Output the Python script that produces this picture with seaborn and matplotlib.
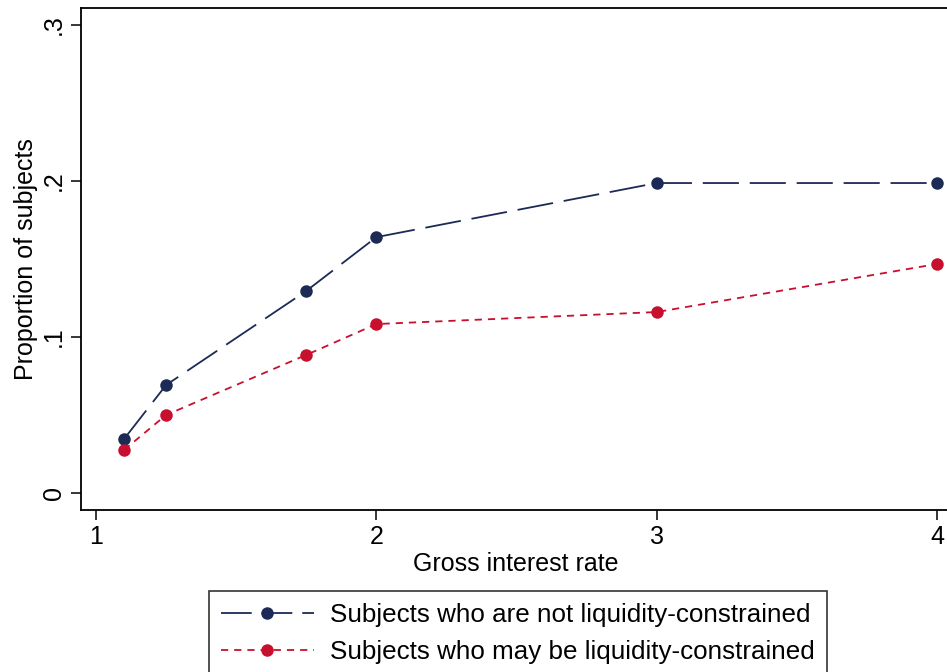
import matplotlib
matplotlib.use("Agg")
import matplotlib.pyplot as plt
import seaborn as sns
import pandas as pd

rates = [1.1, 1.25, 1.75, 2, 3, 4]
not_constrained = [0.0346, 0.0692, 0.1295, 0.1640, 0.1987, 0.1987]
may_constrained = [0.0276, 0.0500, 0.0885, 0.1083, 0.1160, 0.1468]
series_names = ["Subjects who are not liquidity-constrained",
                "Subjects who may be liquidity-constrained"]
x_ticks = [1, 2, 3, 4]
y_ticks = [0, 0.1, 0.2, 0.3]
y_ticklabels = ["0", ".1", ".2", ".3"]

df = pd.DataFrame({
    "rate": rates * 2,
    "prop": not_constrained + may_constrained,
    "series": [series_names[0]] * len(rates) + [series_names[1]] * len(rates),
})

sns.set_theme(style="white")
plt.rcParams['font.family'] = ['Liberation Sans', 'DejaVu Sans']
plt.rcParams['text.color'] = 'black'
plt.rcParams['axes.labelcolor'] = 'black'

W, H = 947, 672
fig = plt.figure(figsize=(W / 100, H / 100), dpi=100)
left, right, top, bottom = 81, 950, 8, 510
ax = fig.add_axes([left / W, 1 - bottom / H, (right - left) / W, (bottom - top) / H])

navy = "#1c2b55"
red = "#c8102e"
dash_styles = {series_names[0]: (20, 6), series_names[1]: (4, 3.3)}
sns.lineplot(data=df, x="rate", y="prop", hue="series", style="series",
             palette={series_names[0]: navy, series_names[1]: red},
             dashes=dash_styles,
             markers={series_names[0]: "o", series_names[1]: "o"},
             markersize=9, markeredgewidth=0, linewidth=1.3, ax=ax, legend=True)

ax.set_xlim(1 - 15 / 280.33, 4 + 13 / 280.33)
ax.set_ylim(-17 / 1560, 0.3 + 17 / 1560)
ax.set_xticks(x_ticks)
ax.set_xticklabels([str(t) for t in x_ticks])
ax.set_yticks(y_ticks)
ax.set_yticklabels(y_ticklabels, rotation=90, va="center")
ax.tick_params(axis="both", direction="out", length=7, width=1.1, colors="black",
               labelsize=18, pad=4)
ax.tick_params(axis="x", bottom=True)
ax.tick_params(axis="y", left=True)
for s in ax.spines.values():
    s.set_color("black")
    s.set_linewidth(1.3)
ax.set_xlabel("Gross interest rate", fontsize=18, labelpad=2, color="black")
ax.set_ylabel("Proportion of subjects", fontsize=18, labelpad=3, color="black")

handles, labels = ax.get_legend_handles_labels()
ax.get_legend().remove()
leg = fig.legend(handles, labels, loc="upper left",
                 bbox_to_anchor=(209 / W, 1 - 591 / H), fontsize=18.7,
                 frameon=True, fancybox=False, edgecolor="black",
                 handlelength=3.6, handletextpad=0.62, borderpad=0.45,
                 labelspacing=0.5, borderaxespad=0)
leg.get_frame().set_linewidth(1.2)
for t in leg.get_texts():
    t.set_color("black")
for ln, name in zip(leg.get_lines(), labels):
    if name == series_names[0]:
        ln.set_linestyle((0, (17, 5.5)))
    else:
        ln.set_linestyle((0, (4, 3.3)))
    ln.set_linewidth(1.3)

fig.savefig("out.png", dpi=100)
